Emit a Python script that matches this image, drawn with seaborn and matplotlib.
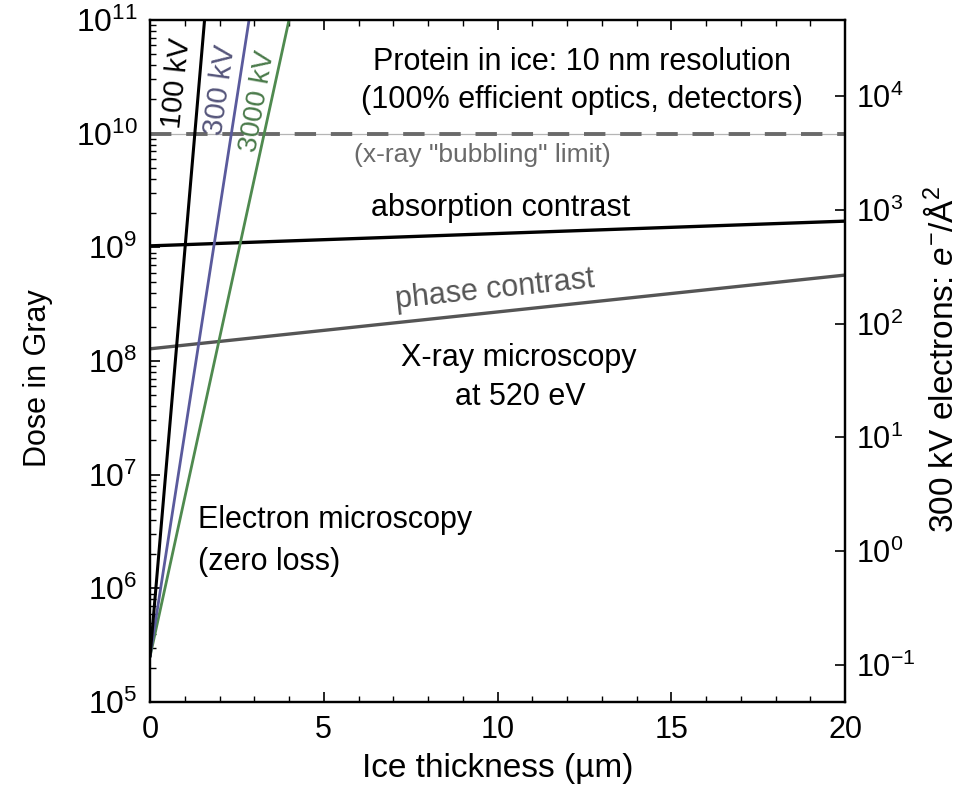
import matplotlib
matplotlib.use("Agg")
import matplotlib.pyplot as plt
import seaborn as sns
import pandas as pd
import numpy as np
from matplotlib.ticker import LogLocator, NullLocator, FuncFormatter, MultipleLocator, FixedLocator

# ---- data ----
e100_thick = [0.0, 1.57]
e100_dose = [2.5e5, 1e11]
e300_thick = [0.0, 2.85]
e300_dose = [2.5e5, 1e11]
e3000_thick = [0.0, 4.0]
e3000_dose = [2.5e5, 1e11]
abs_thick = [0.0, 20.0]
abs_dose = [1.03e9, 1.7e9]
phase_thick = [0.0, 20.0]
phase_dose = [1.28e8, 5.7e8]
bubble_thick = [0.0, 20.0]
bubble_dose = [1e10, 1e10]
gray_per_electron = 2.13e6  # dose (Gy) per 300 kV e-/A^2
left_ticks = [1e5, 1e6, 1e7, 1e8, 1e9, 1e10, 1e11]
right_ticks = [1e-1, 1e0, 1e1, 1e2, 1e3, 1e4]
x_ticks = [0, 5, 10, 15, 20]

sns.set_theme(style="ticks")
plt.rcParams['font.family'] = ['Liberation Sans', 'DejaVu Sans']
plt.rcParams['mathtext.fontset'] = 'custom'
plt.rcParams['mathtext.rm'] = 'Liberation Sans'
plt.rcParams['mathtext.it'] = 'Liberation Sans:italic'
plt.rcParams['mathtext.bf'] = 'Liberation Sans:bold'
for k in ['text.color', 'axes.labelcolor', 'xtick.color', 'ytick.color', 'axes.edgecolor']:
    plt.rcParams[k] = 'black'

fig = plt.figure(figsize=(9.71, 7.86), dpi=100)
ax = fig.add_axes([150/971, 1 - 702/786, (845-150)/971, (702-20)/786])

def df(t, d):
    return pd.DataFrame({"t": t, "d": d})

c300 = "#5a5a9c"
c3000 = "#4f8a4f"
cphase = "#555555"
cbub = "#6a6a6a"

sns.lineplot(data=df(bubble_thick, bubble_dose), x="t", y="d", ax=ax, color="#b5b5b5", lw=0.9)
sns.lineplot(data=df(bubble_thick, bubble_dose), x="t", y="d", ax=ax, color=cbub,
             lw=2.8, linestyle=(0, (5.5, 3.8)))
sns.lineplot(data=df(abs_thick, abs_dose), x="t", y="d", ax=ax, color="black", lw=2.4)
sns.lineplot(data=df(phase_thick, phase_dose), x="t", y="d", ax=ax, color=cphase, lw=2.4)
sns.lineplot(data=df(e3000_thick, e3000_dose), x="t", y="d", ax=ax, color=c3000, lw=2.0)
sns.lineplot(data=df(e300_thick, e300_dose), x="t", y="d", ax=ax, color=c300, lw=2.0)
sns.lineplot(data=df(e100_thick, e100_dose), x="t", y="d", ax=ax, color="black", lw=2.2)

ax.set_yscale("log")
ax.set_xlim(0, 20)
ax.set_ylim(1e5, 1e11)

def powfmt(v, pos):
    if v <= 0:
        return ""
    e = int(round(np.log10(v)))
    return r"$\mathregular{10^{%d}}$" % e

ax.yaxis.set_major_locator(FixedLocator(left_ticks))
ax.yaxis.set_minor_locator(LogLocator(base=10, subs=np.arange(2, 10), numticks=20))
ax.yaxis.set_major_formatter(FuncFormatter(powfmt))
ax.xaxis.set_major_locator(FixedLocator(x_ticks))
ax.xaxis.set_minor_locator(MultipleLocator(1))
ax.tick_params(axis="both", which="major", direction="in", length=7, width=1.2,
               top=True, right=False)
ax.tick_params(axis="both", which="minor", direction="in", length=4, width=1.0,
               top=True, right=False)
ax.tick_params(axis="x", which="major", labelsize=22, pad=9)
ax.tick_params(axis="y", which="major", labelsize=23, pad=9)
for s in ax.spines.values():
    s.set_linewidth(1.6)

ax.set_xlabel("Ice thickness (µm)", fontsize=24)
ax.xaxis.set_label_coords(0.5, -(753 - 702) / 682)
ax.set_ylabel("Dose in Gray", fontsize=22)
ax.yaxis.set_label_coords((53 - 150) / 695, (702 - 378) / 682)

ax2 = ax.twinx()
ax2.set_yscale("log")
ax2.set_ylim(1e5 / gray_per_electron, 1e11 / gray_per_electron)
ax2.yaxis.set_major_locator(FixedLocator(right_ticks))
ax2.yaxis.set_minor_locator(NullLocator())
ax2.yaxis.set_major_formatter(FuncFormatter(powfmt))
ax2.tick_params(axis="y", which="major", direction="in", length=7, width=1.2,
                labelsize=22, pad=8)
ax2.tick_params(axis="x", which="both", bottom=False, top=False,
                labelbottom=False, labeltop=False)
for s in ax2.spines.values():
    s.set_linewidth(1.6)
ax2.set_ylabel(r"300 kV electrons: $\mathit{e}^{-}$/Å$^{2}$", fontsize=24)
ax2.yaxis.set_label_coords((926 - 150) / 695, (702 - 359) / 682)

# ---- annotations ----
def xpix(px):
    return (px - 150) / 34.75

def ypix(py):
    return 10 ** (11 - (py - 20) / 113.7)

fs = 22
ax.text(xpix(582), ypix(62), "Protein in ice: 10 nm resolution", ha="center", va="center", fontsize=fs)
ax.text(xpix(582), ypix(100), "(100% efficient optics, detectors)", ha="center", va="center", fontsize=fs)
ax.text(xpix(482), ypix(155), '(x-ray "bubbling" limit)', ha="center", va="center", fontsize=19, color=cbub)
ax.text(xpix(501), ypix(208), "absorption contrast", ha="center", va="center", fontsize=fs)
ax.text(xpix(495), ypix(290), "phase contrast", ha="center", va="center", fontsize=fs, color=cphase,
        rotation=6, rotation_mode="anchor")
ax.text(xpix(519), ypix(358), "X-ray microscopy", ha="center", va="center", fontsize=fs)
ax.text(xpix(520), ypix(397), "at 520 eV", ha="center", va="center", fontsize=fs)
ax.text(xpix(198), ypix(520), "Electron microscopy", ha="left", va="center", fontsize=fs)
ax.text(xpix(198), ypix(562), "(zero loss)", ha="left", va="center", fontsize=fs)

ax.text(xpix(177), ypix(83), "100 kV", ha="center", va="center", fontsize=21, rotation=84, color="black")
ax.text(xpix(220), ypix(90), "300 kV", ha="center", va="center", fontsize=21, rotation=82, color="#55557a")
ax.text(xpix(258), ypix(101), "3000 kV", ha="center", va="center", fontsize=20, rotation=80, color="#4a7a4a")

fig.savefig("out.png", dpi=100)
